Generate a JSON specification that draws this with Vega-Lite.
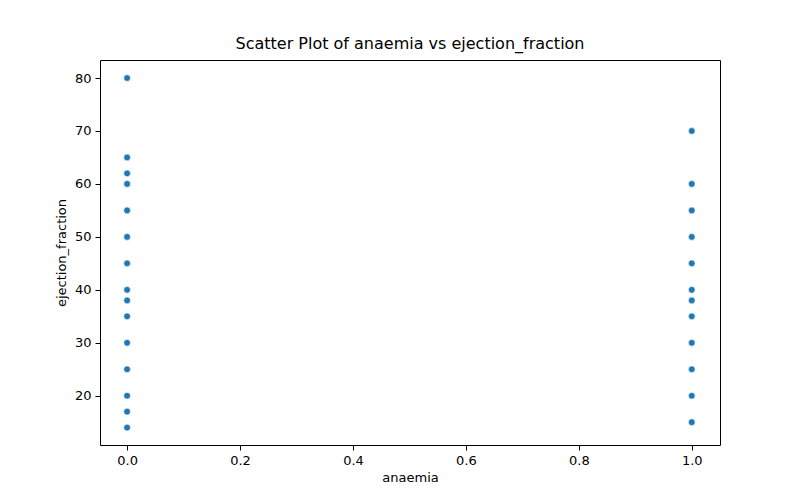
{
  "$schema": "https://vega.github.io/schema/vega-lite/v6.json",
  "width": 620,
  "height": 385,
  "autosize": {"type": "none"},
  "padding": {"left": 100, "top": 60, "right": 80, "bottom": 55},
  "background": "white",
  "title": {"text": "Scatter Plot of anaemia vs ejection_fraction", "font": "DejaVu Sans", "fontSize": 16, "fontWeight": "normal", "color": "black", "offset": 8},
  "config": {"view": {"stroke": "black", "strokeWidth": 1}},
  "data": {"values": [
    {"anaemia": 0, "ejection_fraction": 80},
    {"anaemia": 0, "ejection_fraction": 65},
    {"anaemia": 0, "ejection_fraction": 62},
    {"anaemia": 0, "ejection_fraction": 60},
    {"anaemia": 0, "ejection_fraction": 55},
    {"anaemia": 0, "ejection_fraction": 50},
    {"anaemia": 0, "ejection_fraction": 45},
    {"anaemia": 0, "ejection_fraction": 40},
    {"anaemia": 0, "ejection_fraction": 38},
    {"anaemia": 0, "ejection_fraction": 35},
    {"anaemia": 0, "ejection_fraction": 30},
    {"anaemia": 0, "ejection_fraction": 25},
    {"anaemia": 0, "ejection_fraction": 20},
    {"anaemia": 0, "ejection_fraction": 17},
    {"anaemia": 0, "ejection_fraction": 14},
    {"anaemia": 1, "ejection_fraction": 70},
    {"anaemia": 1, "ejection_fraction": 60},
    {"anaemia": 1, "ejection_fraction": 55},
    {"anaemia": 1, "ejection_fraction": 50},
    {"anaemia": 1, "ejection_fraction": 45},
    {"anaemia": 1, "ejection_fraction": 40},
    {"anaemia": 1, "ejection_fraction": 38},
    {"anaemia": 1, "ejection_fraction": 35},
    {"anaemia": 1, "ejection_fraction": 30},
    {"anaemia": 1, "ejection_fraction": 25},
    {"anaemia": 1, "ejection_fraction": 20},
    {"anaemia": 1, "ejection_fraction": 15}
  ]},
  "mark": {"type": "circle", "size": 45, "color": "#1f77b4", "opacity": 1, "stroke": "white", "strokeWidth": 0.6},
  "encoding": {
    "x": {"field": "anaemia", "type": "quantitative",
      "scale": {"domain": [-0.048, 1.05], "nice": false, "zero": false},
      "axis": {"values": [0, 0.2, 0.4, 0.6, 0.8, 1.0], "format": ".1f", "grid": false, "domain": false, "tickColor": "black", "tickSize": 5, "labelFont": "DejaVu Sans", "labelFontSize": 13, "labelColor": "black", "titleFont": "DejaVu Sans", "titleFontSize": 13, "titleFontWeight": "normal", "titleColor": "black", "labelPadding": 4, "titlePadding": 4}},
    "y": {"field": "ejection_fraction", "type": "quantitative",
      "scale": {"domain": [10.7, 83.4], "nice": false, "zero": false},
      "axis": {"values": [20, 30, 40, 50, 60, 70, 80], "grid": false, "domain": false, "tickColor": "black", "tickSize": 5, "labelFont": "DejaVu Sans", "labelFontSize": 13, "labelColor": "black", "titleFont": "DejaVu Sans", "titleFontSize": 13, "titleFontWeight": "normal", "titleColor": "black", "labelPadding": 4, "titlePadding": 6}}
  }
}
